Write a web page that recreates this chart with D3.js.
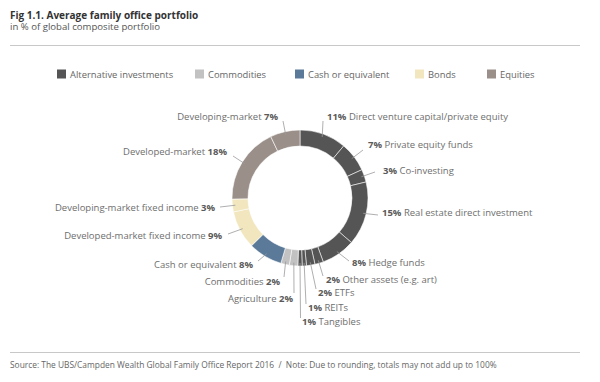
<!DOCTYPE html>
<html><head><meta charset="utf-8">
<script src="https://cdn.jsdelivr.net/npm/d3@7"></script>
<style>
body{margin:0;background:#fff;}
text{font-family:"Open Sans",sans-serif;white-space:pre;}
</style></head>
<body><svg id="c" width="600" height="382"></svg>
<script>
// ---- data ----
const groups = ["Alternative investments","Commodities","Cash or equivalent","Bonds","Equities"];
const groupColors = ["#555555","#c2c2c2","#5b7a99","#f1e6bd","#9a8f89"];
const sliceNames = ["Direct venture capital/private equity","Private equity funds","Co-investing","Real estate direct investment","Hedge funds","Other assets (e.g. art)","ETFs","REITs","Tangibles","Agriculture","Commodities","Cash or equivalent","Developed-market fixed income","Developing-market fixed income","Developed-market","Developing-market"];
const sliceValues = [11,7,3,15,8,2,2,1,1,2,2,8,9,3,18,7];
const sliceGroup = [0,0,0,0,0,0,0,0,0,1,1,2,3,3,4,4];

// ---- layout (label anchor positions, not data) ----
const labelLayout = [
  {side:"R", x:327, y:117, lx:323, ly:121},
  {side:"R", x:368, y:145, lx:363, ly:150},
  {side:"R", x:383, y:171, lx:375, ly:172},
  {side:"R", x:382, y:213, lx:378, ly:215},
  {side:"R", x:352, y:263, lx:349, ly:261},
  {side:"R", x:326, y:280, lx:323, ly:276},
  {side:"R", x:318, y:293, lx:316, ly:289},
  {side:"R", x:308, y:308, lx:306, ly:304},
  {side:"R", x:302, y:322, lx:300.5, ly:318},
  {side:"L", x:293, y:299, lx:294, ly:293},
  {side:"L", x:280, y:282, lx:284, ly:277},
  {side:"L", x:253, y:265, lx:258, ly:261},
  {side:"L", x:222, y:236, lx:228, ly:234},
  {side:"L", x:215, y:208, lx:220, ly:207},
  {side:"L", x:227, y:152, lx:233, ly:156},
  {side:"L", x:278, y:117, lx:283, ly:121}
];

const svg = d3.select("#c");

// title
svg.append("text").attr("x",10).attr("y",18.5).attr("font-size",10).attr("font-weight","bold").attr("fill","#333").text("Fig 1.1. Average family office portfolio");
svg.append("text").attr("x",10).attr("y",30).attr("font-size",9.6).attr("fill","#555").text("in % of global composite portfolio");
svg.append("line").attr("x1",10).attr("x2",580).attr("y1",45.5).attr("y2",45.5).attr("stroke","#c8c8c8").attr("stroke-width",1);

// legend
const legX = [57,195,295,415,487];
const leg = svg.append("g");
groups.forEach((g,i)=>{
  leg.append("rect").attr("x",legX[i]).attr("y",69.5).attr("width",9).attr("height",9).attr("fill",groupColors[i]);
  leg.append("text").attr("x",legX[i]+13).attr("y",77.5).attr("font-size",9.4).attr("fill","#666").text(g);
});

// donut
const cx = 300, cy = 198, R = 68, r = 52;
const data = sliceNames.map((n,i)=>({name:n, value:sliceValues[i], group:sliceGroup[i], i}));
const pie = d3.pie().value(d=>d.value).sort(null);
const arcs = pie(data);
const arc = d3.arc().innerRadius(r).outerRadius(R);
const g = svg.append("g").attr("transform",`translate(${cx},${cy})`);
g.selectAll("path").data(arcs).join("path")
  .attr("d",arc)
  .attr("fill",d=>groupColors[d.data.group])
  .attr("stroke","#fff").attr("stroke-width",0.8).attr("stroke-opacity",0.7);

// leader lines and labels
const lab = svg.append("g");
arcs.forEach((a,i)=>{
  const L = labelLayout[i];
  const m = (a.startAngle+a.endAngle)/2;
  const sx = cx + (R-3)*Math.sin(m), sy = cy - (R-3)*Math.cos(m);
  lab.append("line").attr("x1",sx).attr("y1",sy).attr("x2",L.lx).attr("y2",L.ly)
    .attr("stroke","#9a9a9a").attr("stroke-width",0.8);
  const t = lab.append("text").attr("x",L.x).attr("y",L.y+3.4).attr("font-size",9.5).attr("fill","#6e6e6e");
  const pct = a.data.value + "%";
  if(L.side==="R"){
    t.attr("text-anchor","start");
    t.append("tspan").attr("font-weight","bold").attr("fill","#5a5a5a").text(pct);
    t.append("tspan").text(" " + a.data.name);
  } else {
    t.attr("text-anchor","end");
    t.append("tspan").text(a.data.name + " ");
    t.append("tspan").attr("font-weight","bold").attr("fill","#5a5a5a").text(pct);
  }
});

// footer
svg.append("line").attr("x1",10).attr("x2",580).attr("y1",352.5).attr("y2",352.5).attr("stroke","#c8c8c8").attr("stroke-width",1);
svg.append("text").attr("x",10).attr("y",368).attr("font-size",8.4).attr("fill","#666")
  .text("Source: The UBS/Campden Wealth Global Family Office Report 2016  /  Note: Due to rounding, totals may not add up to 100%");
</script></body></html>
